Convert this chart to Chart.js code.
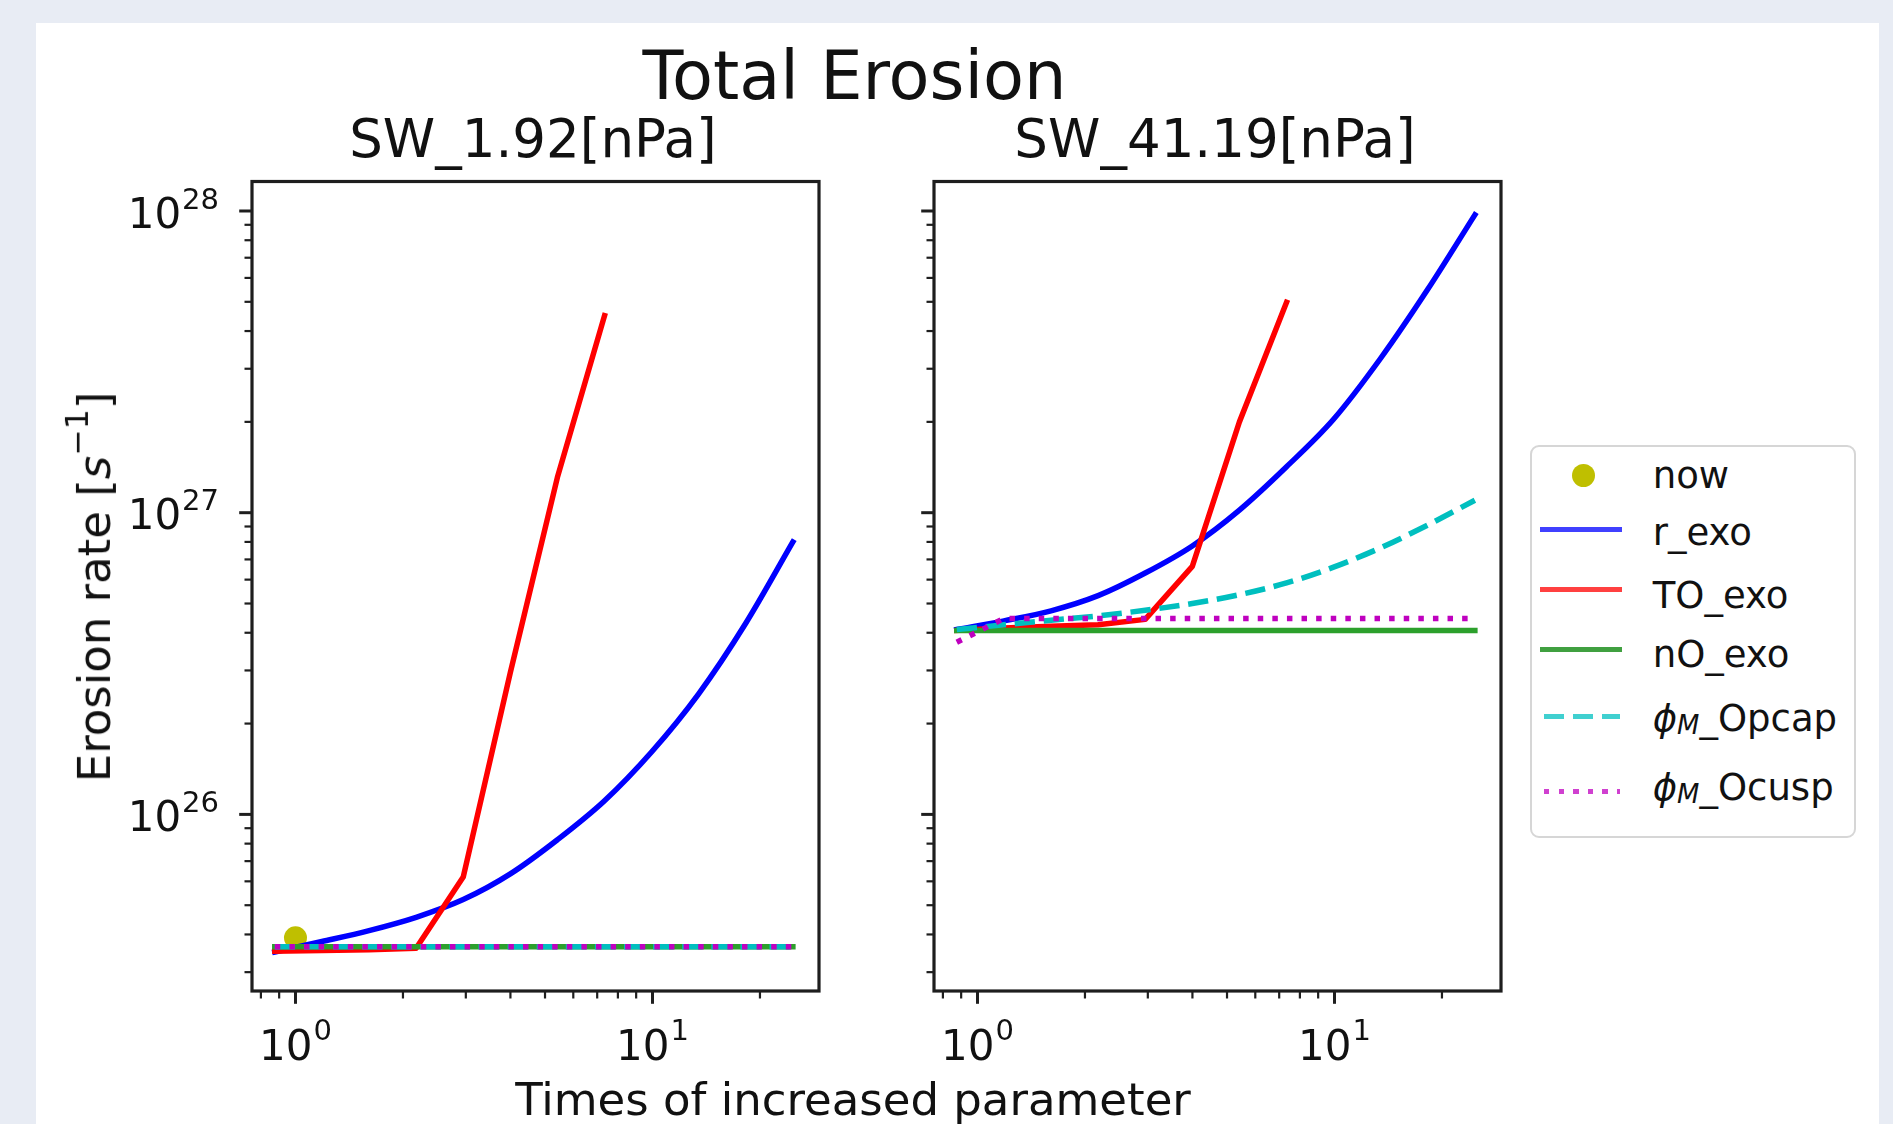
<!DOCTYPE html>
<html>
<head>
<meta charset="utf-8">
<title>Total Erosion</title>
<script src="https://cdn.jsdelivr.net/npm/chart.js@4.4.0/dist/chart.umd.min.js"></script>
<style>
  html, body { margin: 0; padding: 0; }
  body { width: 1893px; height: 1124px; background: #e8ecf4; position: relative; overflow: hidden;
         font-family: "DejaVu Sans", sans-serif; color: #111; }
  #panel { position: absolute; left: 36px; top: 23px; width: 1843px; height: 1101px; background: #fff; }
  canvas { position: absolute; top: 0; }
  .txt { position: absolute; white-space: nowrap; line-height: 1; }
  .sup { font-size: 0.7em; position: relative; top: -0.71em; }
  .sub { font-size: 0.7em; font-style: italic; position: relative; top: 0.12em; }
  #legend { position: absolute; left: 1530px; top: 445px; width: 326px; height: 393px; box-sizing: border-box;
            border: 2.5px solid #d6d6d6; border-radius: 9px; background: #fff; }
  .hl { position: absolute; left: 1540px; width: 82px; height: 5.5px; }
</style>
</head>
<body>
<div id="panel"></div>
<canvas id="low" width="900" height="1124" style="left:0px"></canvas>
<canvas id="high" width="993" height="1124" style="left:900px"></canvas>
<div id="legend"></div>
<script>
// x values shared by the curves (times of increased parameter)
var xGrid = [0.875, 1.186, 1.607, 2.177, 2.95, 3.997, 5.416, 7.34, 9.94, 13.47, 18.25, 24.73];

// SW_1.92[nPa]
var nowX = [1.0];
var nowLow = [3.9e25];
var rExoLow = [3.50e25, 3.79e25, 4.12e25, 4.56e25, 5.22e25, 6.35e25, 8.24e25, 1.11e26, 1.61e26, 2.51e26, 4.3e26, 8.0e26];
var toExoLow = [3.52e25, 3.54e25, 3.56e25, 3.6e25, 6.2e25, 2.95e26, 1.31e27, 4.5e27];
var nOExoLow = [3.64e25, 3.64e25, 3.64e25, 3.64e25, 3.64e25, 3.64e25, 3.64e25, 3.64e25, 3.64e25, 3.64e25, 3.64e25, 3.64e25];
var opcapLow = [3.64e25, 3.64e25, 3.64e25, 3.64e25, 3.64e25, 3.64e25, 3.64e25, 3.64e25, 3.64e25, 3.64e25, 3.64e25, 3.64e25];
var ocuspLow = [3.64e25, 3.64e25, 3.64e25, 3.64e25, 3.64e25, 3.64e25, 3.64e25, 3.64e25, 3.64e25, 3.64e25, 3.64e25, 3.64e25];

// SW_41.19[nPa]
var rExoHigh = [4.10e26, 4.38e26, 4.73e26, 5.31e26, 6.31e26, 7.76e26, 1.02e27, 1.42e27, 2.04e27, 3.25e27, 5.5e27, 9.71e27];
var toExoHigh = [4.07e26, 4.15e26, 4.2e26, 4.25e26, 4.43e26, 6.64e26, 2.0e27, 4.98e27];
var nOExoHigh = [4.07e26, 4.07e26, 4.07e26, 4.07e26, 4.07e26, 4.07e26, 4.07e26, 4.07e26, 4.07e26, 4.07e26, 4.07e26, 4.07e26];
var opcapHigh = [4.1e26, 4.25e26, 4.4e26, 4.55e26, 4.75e26, 5.0e26, 5.35e26, 5.85e26, 6.6e26, 7.65e26, 9.1e26, 1.1e27];
var ocuspHigh = [3.72e26, 4.46e26, 4.46e26, 4.46e26, 4.46e26, 4.46e26, 4.46e26, 4.46e26, 4.46e26, 4.46e26, 4.46e26, 4.46e26];

// axes
var xMajorTicks = [1, 10];
var xTickExp = ['0', '1'];
var xMinorTicks = [0.8, 0.9, 2, 3, 4, 5, 6, 7, 8, 9, 20];
var yMajorTicks = [1e26, 1e27, 1e28];
var yTickExp = ['26', '27', '28'];
var yMinorTicks = [3e25, 4e25, 5e25, 6e25, 7e25, 8e25, 9e25,
                   2e26, 3e26, 4e26, 5e26, 6e26, 7e26, 8e26, 9e26,
                   2e27, 3e27, 4e27, 5e27, 6e27, 7e27, 8e27, 9e27];
var xMin = 0.7554, xMax = 29.27;
var yMin = 2.598e25, yMax = 1.2524e28;

var legendLabels = ['now', 'r_exo', 'TO_exo', 'nO_exo', 'ϕ_M_Opcap', 'ϕ_M_Ocusp'];
var colors = { now: '#bfbf00', r: '#0000ff', to: '#ff0000', n: '#2ca02c', cap: '#00bfbf', cusp: '#bf00bf' };

function pts(xs, ys) {
    return ys.map(function (v, i) { return { x: xs[i], y: v }; });
}

function lineSet(label, xs, ys, color, order, dash, smooth) {
    return {
        label: label,
        data: pts(xs, ys),
        borderColor: color,
        borderWidth: 5.5,
        borderDash: dash || [],
        borderCapStyle: dash ? 'butt' : 'square',
        borderJoinStyle: 'round',
        pointRadius: 0,
        fill: false,
        tension: 0,
        cubicInterpolationMode: smooth ? 'monotone' : 'default',
        order: order
    };
}

// matplotlib style frame, ticks and 10^n labels
var mplAxes = {
    id: 'mplAxes',
    afterDatasetsDraw: function (chart, args, opts) {
        var ctx = chart.ctx, a = chart.chartArea;
        var sx = chart.scales.x, sy = chart.scales.y;
        ctx.save();
        ctx.strokeStyle = '#1e1e1e';
        ctx.lineWidth = 3.2;
        ctx.strokeRect(a.left, a.top, a.right - a.left, a.bottom - a.top);

        function tick(x0, y0, x1, y1, w) {
            ctx.lineWidth = w;
            ctx.beginPath(); ctx.moveTo(x0, y0); ctx.lineTo(x1, y1); ctx.stroke();
        }
        xMinorTicks.forEach(function (v) { var p = sx.getPixelForValue(v); tick(p, a.bottom, p, a.bottom + 7.5, 2.2); });
        xMajorTicks.forEach(function (v) { var p = sx.getPixelForValue(v); tick(p, a.bottom, p, a.bottom + 12.8, 3); });
        yMinorTicks.forEach(function (v) { var p = sy.getPixelForValue(v); tick(a.left, p, a.left - 7.5, p, 2.2); });
        yMajorTicks.forEach(function (v) { var p = sy.getPixelForValue(v); tick(a.left, p, a.left - 12.8, p, 3); });

        ctx.fillStyle = '#111';
        ctx.textBaseline = 'alphabetic';
        ctx.textAlign = 'left';
        var big = '42px "DejaVu Sans"', small = '29px "DejaVu Sans"';
        xMajorTicks.forEach(function (v, i) {
            var p = sx.getPixelForValue(v);
            ctx.font = big; var w1 = ctx.measureText('10').width;
            ctx.font = small; var w2 = ctx.measureText(xTickExp[i]).width;
            var x0 = p - (w1 + w2 + 1) / 2;
            ctx.font = big; ctx.fillText('10', x0, a.bottom + 69);
            ctx.font = small; ctx.fillText(xTickExp[i], x0 + w1 + 1, a.bottom + 49);
        });
        if (opts.yLabels) {
            yMajorTicks.forEach(function (v, i) {
                var p = sy.getPixelForValue(v);
                ctx.font = big; var w1 = ctx.measureText('10').width;
                ctx.font = small; var w2 = ctx.measureText(yTickExp[i]).width;
                var x1 = a.left - 33;
                ctx.font = small; ctx.fillText(yTickExp[i], x1 - w2, p - 2.2);
                ctx.font = big; ctx.fillText('10', x1 - w2 - 1 - w1, p + 16.7);
            });
        }
        ctx.restore();
    }
};

function makeChart(id, pad, sets, yLabels) {
    return new Chart(document.getElementById(id).getContext('2d'), {
        type: 'line',
        data: { datasets: sets },
        options: {
            responsive: false,
            animation: false,
            devicePixelRatio: 1,
            layout: { padding: pad },
            scales: {
                x: { type: 'logarithmic', min: xMin, max: xMax, display: false },
                y: { type: 'logarithmic', min: yMin, max: yMax, display: false }
            },
            plugins: {
                legend: { display: false },
                tooltip: { enabled: false },
                mplAxes: { yLabels: yLabels }
            }
        },
        plugins: [mplAxes]
    });
}

var nowSet = {
    label: legendLabels[0],
    data: pts(nowX, nowLow),
    showLine: false,
    pointRadius: 11.5,
    pointBackgroundColor: colors.now,
    pointBorderWidth: 0,
    order: 6
};

makeChart('low', { left: 252, top: 181.5, right: 81, bottom: 133 }, [
    nowSet,
    lineSet(legendLabels[1], xGrid, rExoLow, colors.r, 5, null, true),
    lineSet(legendLabels[2], xGrid, toExoLow, colors.to, 4),
    lineSet(legendLabels[3], xGrid, nOExoLow, colors.n, 3),
    lineSet(legendLabels[4], xGrid, opcapLow, colors.cap, 2, [20.3, 8.8]),
    lineSet(legendLabels[5], xGrid, ocuspLow, colors.cusp, 1, [5.5, 9.1])
], true);

makeChart('high', { left: 34, top: 181.5, right: 392, bottom: 133 }, [
    lineSet(legendLabels[1], xGrid, rExoHigh, colors.r, 5, null, true),
    lineSet(legendLabels[2], xGrid, toExoHigh, colors.to, 4),
    lineSet(legendLabels[3], xGrid, nOExoHigh, colors.n, 3),
    lineSet(legendLabels[4], xGrid, opcapHigh, colors.cap, 2, [20.3, 8.8], true),
    lineSet(legendLabels[5], xGrid, ocuspHigh, colors.cusp, 1, [5.5, 9.1])
], false);

// text (baseline-positioned)
function addText(html, size, cx, baseline, align) {
    var d = document.createElement('div');
    d.className = 'txt';
    d.style.fontSize = size + 'px';
    d.innerHTML = html;
    d.style.left = cx + 'px';
    d.style.top = (baseline - 0.846 * size) + 'px';
    if (align === 'center') d.style.transform = 'translateX(-50%)';
    document.body.appendChild(d);
    return d;
}

addText('Total Erosion', 67, 854.5, 100, 'center');
addText('SW_1.92[nPa]', 53, 533, 156.7, 'center');
addText('SW_41.19[nPa]', 53, 1215, 156.7, 'center');
addText('Times of increased parameter', 45, 853, 1115, 'center');

var yl = document.createElement('div');
yl.className = 'txt';
yl.style.fontSize = '45px';
yl.style.left = '110px';
yl.style.top = '586.5px';
yl.style.transformOrigin = '0 0';
yl.style.transform = 'rotate(-90deg) translate(-50%, -' + (0.846 * 45) + 'px)';
yl.innerHTML = 'Erosion rate [<i>s</i><span class="sup">−1</span>]';
document.body.appendChild(yl);

// legend
function mathLabel(s) {
    return s.replace('ϕ_M', '<i>ϕ</i><span class="sub">M</span>');
}
var legendRows = [
    { base: 488.3, mid: 475.7, kind: 'dot', color: colors.now },
    { base: 545, mid: 529.7, kind: 'solid', color: '#4040ff' },
    { base: 608.3, mid: 589.7, kind: 'solid', color: '#ff4040' },
    { base: 667.3, mid: 649.3, kind: 'solid', color: '#40a040' },
    { base: 731.7, mid: 716.3, kind: 'dash', color: '#40d0d0' },
    { base: 800.7, mid: 791.3, kind: 'dot2', color: '#d040d0' }
];
legendRows.forEach(function (r, i) {
    var h = document.createElement('div');
    if (r.kind === 'dot') {
        h.style.cssText = 'position:absolute;left:1571.5px;top:' + (r.mid - 11.5) + 'px;width:23px;height:23px;border-radius:50%;background:' + r.color;
    } else {
        h.className = 'hl';
        h.style.top = (r.mid - 2.75) + 'px';
        if (r.kind === 'solid') h.style.background = r.color;
        if (r.kind === 'dash') h.style.background = 'repeating-linear-gradient(90deg,' + r.color + ' 0 20.3px, transparent 20.3px 29.1px)';
        if (r.kind === 'dot2') h.style.background = 'repeating-linear-gradient(90deg,' + r.color + ' 0 5.5px, transparent 5.5px 14.6px)';
        if (r.kind !== 'solid') { h.style.left = '1544px'; h.style.width = '76px'; }
    }
    document.body.appendChild(h);
    addText(mathLabel(legendLabels[i]), 37, 1652.7, r.base, 'left');
});
</script>
</body>
</html>
